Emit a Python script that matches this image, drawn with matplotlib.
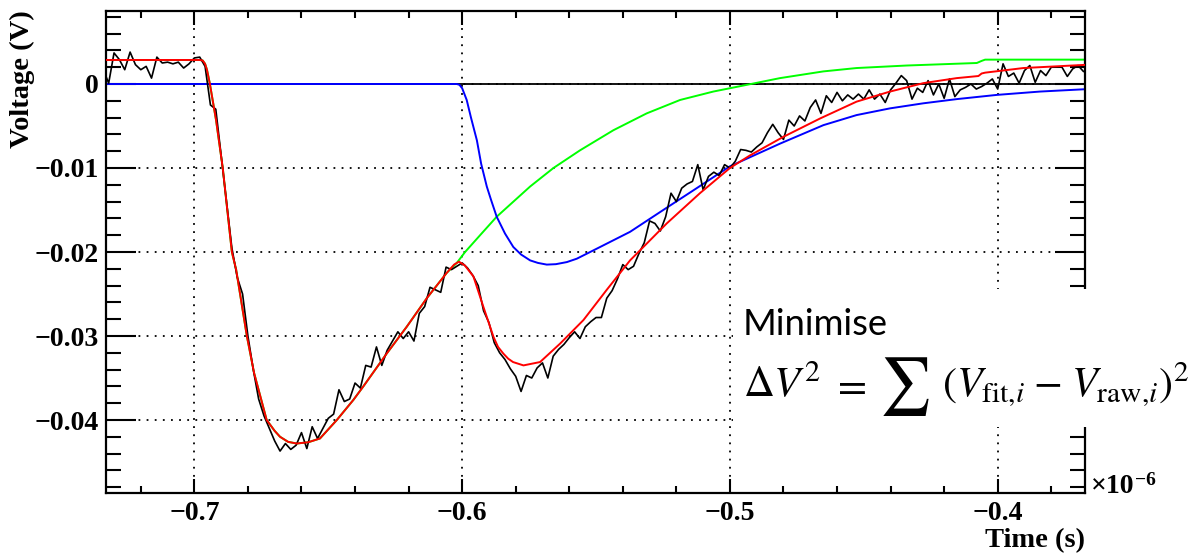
import numpy as np
import matplotlib
matplotlib.use("Agg")
import matplotlib.pyplot as plt
from matplotlib.ticker import MultipleLocator, FixedLocator, FixedFormatter
from matplotlib.patches import Rectangle

plt.rcParams["mathtext.fontset"] = "stix"

# ---------------- data (time in units of 1e-6 s, voltage in mV) ----------------
# raw oscilloscope trace, uniformly sampled
raw_t0 = -0.734
raw_dt = 0.002
raw_mV = [
    1.7,
    0.1, 3.7, 2.9, 1.7, 3.8, 2.3, 1.7, 2.1, 0.7, 3.2, 2.5, 2.6, 2.4, 2.6, 1.9, 2.4, 3.1, 3.2, 2.1, -2.5, -3.0,
    -8.5, -14.0, -19.5, -23.0, -25.0, -30.0, -34.0, -37.5, -39.5, -41.0, -42.5, -43.7, -42.8, -43.5, -43.0,
    -41.5, -43.4, -40.8, -42.2, -41.0, -39.8, -39.3, -36.4, -37.8, -37.5, -35.6, -36.2, -33.5, -33.7, -31.3,
    -33.5, -31.7, -30.6, -29.5, -30.3, -29.5, -30.6, -27.3, -26.5, -24.2, -24.5, -24.8, -21.8, -22.1, -21.7,
    -21.3,
    -21.9, -22.8, -24.0, -27.0, -28.4, -30.8, -32.0, -32.8, -33.9, -34.8, -36.6, -34.7, -35.0, -33.8, -33.2,
    -35.0, -32.4, -31.6, -31.0, -30.2, -29.5, -30.3, -28.9, -28.3, -27.8, -27.8, -25.5, -24.6, -23.2, -21.5,
    -22.1, -21.7, -20.2,
    -18.9, -16.3, -16.6, -17.5, -15.8, -13.0, -14.0, -12.4, -11.9, -11.6, -9.6, -12.6, -11.0, -10.5, -10.9,
    -9.6, -10.0, -9.2, -7.8, -7.9, -8.1, -7.5, -7.0, -5.8, -4.8, -5.8, -6.6, -4.3, -5.0, -3.8,
    -4.4, -2.8, -1.9, -3.5, -1.4, -2.2, -1.0, -2.0, -1.3, -1.8, -1.2, -1.8, -0.7, -1.8, -1.2, -2.2, -0.7,
    0.1, 1.0, 0.4, -1.8, -0.5, -1.0, 0.4, -1.3, 0.0, -1.7, 0.6, -1.5, -0.7, -0.4, 0.0,
    -0.6, -0.3, 0.1, 0.6, -0.6, 2.4, 0.9, 1.3, 0.1, 1.6, 2.2, 0.2, 1.6, 1.0, 2.0,
    2.0, 2.0, 0.9, 1.8, 2.2, 1.5,
]

# total fit (red)
fit_t = [-0.735, -0.698, -0.6969, -0.6960, -0.6953, -0.6942, -0.6919, -0.6894, -0.6860, -0.6844,
         -0.6804, -0.6777, -0.6730, -0.6700, -0.6680, -0.6650, -0.6618, -0.6575, -0.6531, -0.6468,
         -0.6406, -0.6369, -0.6282, -0.6207, -0.6132, -0.6058, -0.6030, -0.6012, -0.5990, -0.5958,
         -0.5921, -0.5883, -0.5866, -0.5846, -0.5828, -0.5810, -0.5771, -0.5709, -0.5634, -0.5547,
         -0.5460, -0.5373, -0.5236, -0.5112, -0.5000, -0.4925, -0.4801, -0.4663, -0.4527, -0.4402,
         -0.4278, -0.4153, -0.4072, -0.4060, -0.4047, -0.3904, -0.3660]
fit_mV = [2.86, 2.86, 2.8, 2.4, 1.7, 0.0, -4.3, -10.0, -20.0, -22.1,
          -30.0, -34.4, -40.0, -41.3, -42.0, -42.6, -42.8, -42.65, -42.2, -40.0,
          -37.6, -36.0, -32.1, -28.9, -25.5, -22.5, -21.5, -21.15, -21.6, -22.9,
          -26.5, -30.1, -31.3, -32.1, -32.7, -33.1, -33.5, -33.1, -30.9, -28.1,
          -24.5, -21.0, -16.6, -13.0, -10.0, -8.5, -6.3, -4.1, -2.1, -0.9,
          0.1, 0.7, 0.95, 1.25, 1.35, 1.9, 2.3]

# second pulse component (blue)
blue_t = [-0.735, -0.6020, -0.6010, -0.6000, -0.5983, -0.5967, -0.5945, -0.5929, -0.5908, -0.5892,
          -0.5871, -0.5840, -0.5809, -0.5780, -0.5746, -0.5717, -0.5684, -0.5650, -0.5609, -0.5572,
          -0.5497, -0.5373, -0.5249, -0.5124, -0.5000, -0.4813, -0.4651, -0.4527, -0.4402, -0.4278,
          -0.4153, -0.4004, -0.3842, -0.3660]
blue_mV = [0.0, 0.0, -0.1, -0.5, -1.9, -4.0, -6.7, -9.5, -12.2, -13.8,
           -15.8, -17.8, -19.4, -20.3, -21.0, -21.3, -21.5, -21.45, -21.2, -20.8,
           -19.6, -17.6, -15.0, -12.4, -9.8, -7.1, -4.9, -3.7, -2.9, -2.3,
           -1.8, -1.3, -0.9, -0.6]

# first pulse component + baseline (green)
green_t = [-0.735, -0.698, -0.6969, -0.6960, -0.6953, -0.6942, -0.6919, -0.6894, -0.6860, -0.6844,
           -0.6804, -0.6777, -0.6730, -0.6700, -0.6680, -0.6650, -0.6618, -0.6575, -0.6531, -0.6468,
           -0.6406, -0.6369, -0.6282, -0.6207, -0.6132, -0.6058, -0.6020, -0.5989, -0.5933, -0.5871,
           -0.5746, -0.5659, -0.5560, -0.5435, -0.5311, -0.5186, -0.5062, -0.4937, -0.4813, -0.4651,
           -0.4527, -0.4340, -0.4078, -0.4060, -0.4047, -0.3660]
green_mV = [2.86, 2.86, 2.8, 2.4, 1.7, 0.0, -4.3, -10.0, -20.0, -22.1,
            -30.0, -34.4, -40.0, -41.3, -42.0, -42.6, -42.8, -42.65, -42.2, -40.0,
            -37.6, -36.0, -32.1, -28.9, -25.5, -22.5, -21.3, -20.0, -18.0, -15.8,
            -12.2, -10.0, -7.9, -5.5, -3.5, -1.9, -0.9, -0.1, 0.7, 1.5,
            1.9, 2.2, 2.5, 2.75, 2.9, 2.9]

x_ticks = [-0.7, -0.6, -0.5, -0.4]
x_tick_labels = ["\u22120.7", "\u22120.6", "\u22120.5", "\u22120.4"]
y_ticks = [0.0, -0.01, -0.02, -0.03, -0.04]
y_tick_labels = ["0", "\u22120.01", "\u22120.02", "\u22120.03", "\u22120.04"]

# ---------------- figure ----------------
W, H = 1193, 556
fig = plt.figure(figsize=(W / 100, H / 100), dpi=100)
ax = fig.add_axes([106 / W, 1 - 493 / H, (1085 - 106) / W, (493 - 11) / H])

raw_t = raw_t0 + raw_dt * np.arange(len(raw_mV))
mv = 1e-3

ax.axhline(0, color="black", lw=1.3, zorder=1.5)
ax.plot(green_t, np.array(green_mV) * mv, color="#00ff00", lw=1.4, zorder=2)
ax.plot(blue_t, np.array(blue_mV) * mv, color="#0000ff", lw=1.4, zorder=2.2)
ax.plot(raw_t, np.array(raw_mV) * mv, color="black", lw=1.2, zorder=2.5)
ax.plot(fit_t, np.array(fit_mV) * mv, color="#ff0000", lw=1.4, zorder=3)

ax.set_xlim(-0.733, -0.3674)
ax.set_ylim(-0.04869, 0.00869)

ax.xaxis.set_major_locator(FixedLocator(x_ticks))
ax.xaxis.set_major_formatter(FixedFormatter(x_tick_labels))
ax.xaxis.set_minor_locator(MultipleLocator(0.02))
ax.yaxis.set_major_locator(FixedLocator(y_ticks))
ax.yaxis.set_major_formatter(FixedFormatter(y_tick_labels))
ax.yaxis.set_minor_locator(MultipleLocator(0.002))

ax.tick_params(which="both", direction="in", top=True, right=True, width=1.5, color="black")
ax.xaxis.set_tick_params(which="major", length=10, pad=6)
ax.xaxis.set_tick_params(which="minor", length=4.7)
ax.yaxis.set_tick_params(which="major", length=21.5, pad=5)
ax.yaxis.set_tick_params(which="minor", length=10.5)

for lab in ax.get_xticklabels() + ax.get_yticklabels():
    lab.set_fontfamily("Liberation Serif")
    lab.set_fontweight("bold")
    lab.set_fontsize(20)

ax.grid(True, which="major", color="black", linestyle=(0, (1, 3.5)), linewidth=1.3)
ax.set_axisbelow(True)
for s in ax.spines.values():
    s.set_linewidth(1.6)

# axis titles
fig.text(22 / W, 1 - 10 / H, "Voltage (V)", rotation=90, ha="center", va="top",
         family="Liberation Serif", fontweight="bold", fontsize=20.5)
fig.text(1085 / W, 1 - 547 / H, "Time (s)", ha="right", va="baseline",
         family="Liberation Serif", fontweight="bold", fontsize=20.5)
fig.text(1091 / W, 1 - 493 / H, "\u00d710", ha="left", va="baseline",
         family="Liberation Serif", fontweight="bold", fontsize=20)
fig.text(1135 / W, 1 - 485 / H, "\u22126", ha="left", va="baseline",
         family="Liberation Serif", fontweight="bold", fontsize=14)

# annotation box
fig.add_artist(Rectangle((733 / W, 1 - 427 / H), 1 - 733 / W, (427 - 289) / H,
                         transform=fig.transFigure, facecolor="white", edgecolor="none", zorder=5))

renderer = fig.canvas.get_renderer()


def fit_width(text, x0, x1, y, size0=30, va="baseline", **kw):
    t = fig.text(x0 / W, 1 - y / H, text, fontsize=size0, ha="left", va=va, zorder=6, **kw)
    bb = t.get_window_extent(renderer)
    t.set_fontsize(size0 * (x1 - x0) / bb.width)
    return t


fit_width("Minimise", 743, 888, 335, family="Lato")
part_d = fit_width(r"$(V_{\mathrm{fit}{,}i}\;{-}\;V_{\mathrm{raw}{,}i})^{2}$", 942, 1189, 397)
size_math = part_d.get_fontsize()
fit_width(r"$\Delta V^{2}$", 743, 821, 397)
fig.text(848 / W, 1 - 397 / H, r"$=$", fontsize=size_math, ha="center",
         va="baseline", zorder=6)
sig = fig.text(904 / W, 1 - 386 / H, r"$\sum$", fontsize=40, ha="center",
               va="center", zorder=6)
bb = sig.get_window_extent(renderer)
sig.set_fontsize(40 * 62 / bb.height)

fig.savefig("out.png", dpi=100)
